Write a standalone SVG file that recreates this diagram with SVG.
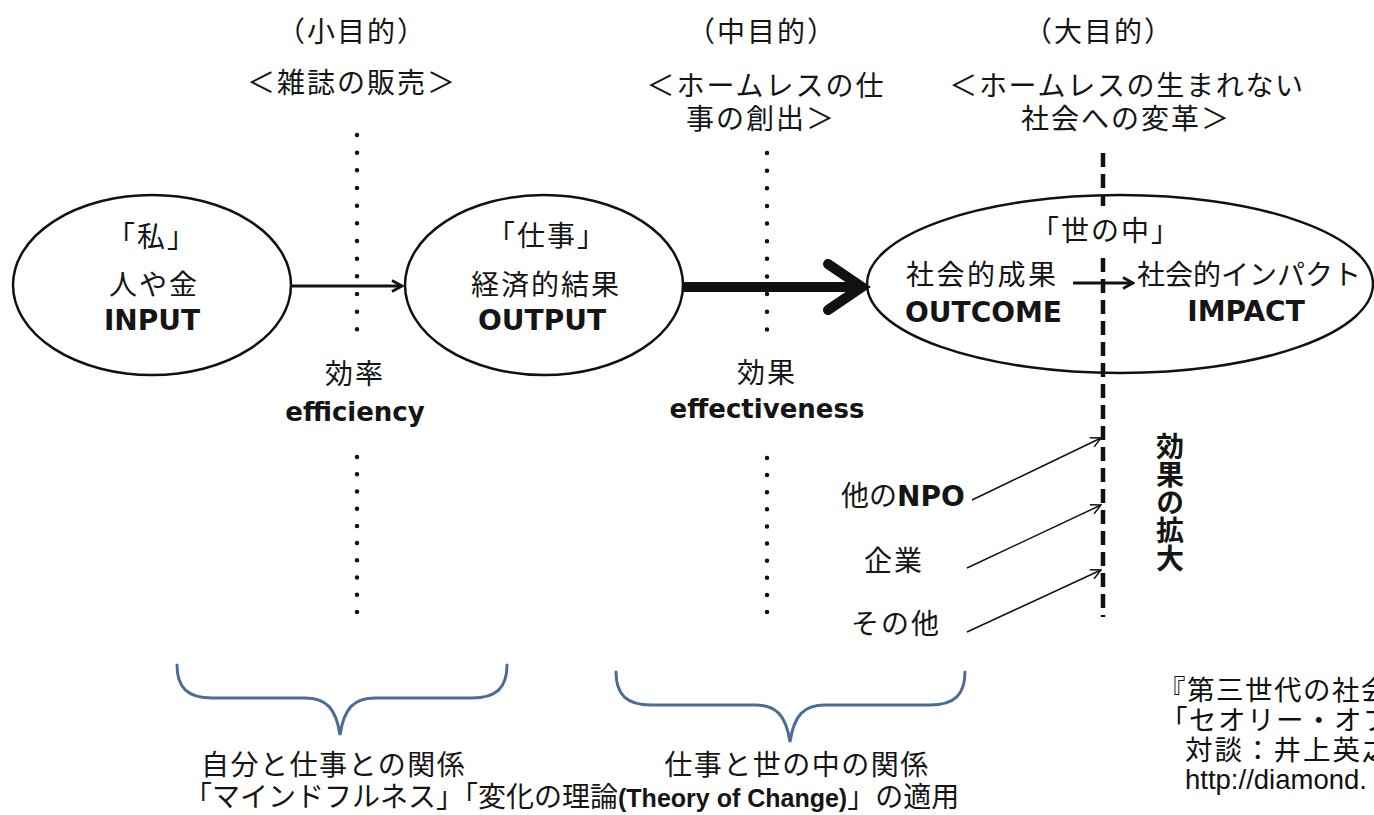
<svg xmlns="http://www.w3.org/2000/svg" width="1374" height="815" viewBox="0 0 1374 815">
<style>
.jp{font-family:"Noto Sans CJK JP","Noto Sans CJK SC",sans-serif;fill:#151515;font-size:28px}
.ttl{letter-spacing:2px}
.en{font-family:"DejaVu Sans","Noto Sans CJK JP",sans-serif;font-weight:bold;fill:#151515}
.enb{font-family:"Liberation Sans","Noto Sans CJK JP",sans-serif;font-weight:bold;fill:#151515}
.b{font-weight:bold}
.src{font-family:"Liberation Sans","Noto Sans CJK JP",sans-serif;fill:#111;font-size:27.5px}
.node{fill:#fff;stroke:#111;stroke-width:2.5}
.dots{stroke:#111;stroke-width:4.5;stroke-linecap:round;fill:none}
.brace{fill:none;stroke:#4c6c96;stroke-width:3;stroke-linecap:round}
.mid{text-anchor:middle}
</style>
<defs>
<marker id="ah" viewBox="0 0 14 14" refX="12" refY="7" markerWidth="14" markerHeight="14" markerUnits="userSpaceOnUse" orient="auto">
<path d="M2,1.5 L12,7 L2,12.5" fill="none" stroke="#111" stroke-width="2.6" stroke-linejoin="miter"/>
</marker>
<marker id="ahs" viewBox="0 0 12 12" refX="11" refY="6" markerWidth="12" markerHeight="12" markerUnits="userSpaceOnUse" orient="auto">
<path d="M1,1 L11,6 L1,11" fill="none" stroke="#111" stroke-width="1.5"/>
</marker>
</defs>
<rect width="1374" height="815" fill="#fff"/>

<g id="headers">
<text class="jp ttl mid" x="352" y="42" font-size="26">（小目的）</text>
<text class="jp ttl mid" x="352" y="93">＜雑誌の販売＞</text>
<text class="jp ttl mid" x="762" y="42" font-size="26">（中目的）</text>
<text class="jp ttl mid" x="766" y="96">＜ホームレスの仕</text>
<text class="jp ttl mid" x="761" y="129">事の創出＞</text>
<text class="jp ttl mid" x="1099" y="42" font-size="26">（大目的）</text>
<text class="jp mid" x="1127" y="96" letter-spacing="1.7">＜ホームレスの生まれない</text>
<text class="jp ttl mid" x="1126" y="129">社会への変革＞</text>
</g>

<g id="guides">
<line class="dots" x1="357" y1="135" x2="357" y2="347" stroke-dasharray="0 17.67"/>
<line class="dots" x1="357" y1="457" x2="357" y2="612" stroke-dasharray="0 17.22"/>
<line class="dots" x1="767" y1="153" x2="767" y2="347" stroke-dasharray="0 17.64"/>
<line class="dots" x1="767" y1="458" x2="767" y2="612" stroke-dasharray="0 17.11"/>
</g>

<g id="node-input">
<ellipse class="node" cx="152" cy="285" rx="139" ry="90"/>
<text class="jp ttl mid" x="152" y="247">「私」</text>
<text class="jp ttl mid" x="154" y="295">人や金</text>
<text class="en mid" x="152" y="330" font-size="28">INPUT</text>
</g>

<g id="node-output">
<ellipse class="node" cx="544" cy="285" rx="139" ry="90"/>
<text class="jp ttl mid" x="547" y="246">「仕事」</text>
<text class="jp ttl mid" x="546" y="295">経済的結果</text>
<text class="en mid" x="542" y="330" font-size="28">OUTPUT</text>
</g>

<g id="node-society">
<ellipse class="node" cx="1120" cy="284" rx="253" ry="89"/>
</g>

<g id="connectors">
<line x1="1103" y1="153" x2="1103" y2="617" stroke="#111" stroke-width="4.5" stroke-dasharray="14 7"/>
<rect x="1048" y="206" width="112" height="48" fill="#fff"/>
<line x1="292" y1="286" x2="402" y2="286" stroke="#111" stroke-width="3" marker-end="url(#ah)"/>
<line x1="683" y1="287" x2="858" y2="287" stroke="#111" stroke-width="10"/>
<path d="M828,264 L862,287 L828,310" fill="none" stroke="#111" stroke-width="10" stroke-linecap="round" stroke-linejoin="miter"/>
<line x1="1073" y1="283" x2="1133" y2="283" stroke="#111" stroke-width="3" marker-end="url(#ah)"/>
<line x1="972" y1="500" x2="1101" y2="438" stroke="#111" stroke-width="1.5" marker-end="url(#ahs)"/>
<line x1="967" y1="568" x2="1101" y2="505" stroke="#111" stroke-width="1.5" marker-end="url(#ahs)"/>
<line x1="967" y1="632" x2="1101" y2="570" stroke="#111" stroke-width="1.5" marker-end="url(#ahs)"/>
</g>

<g id="society-labels">
<text class="jp ttl mid" x="1106" y="241">「世の中」</text>
<text class="jp" x="906" y="285" letter-spacing="2.5">社会的成果</text>
<text class="en" x="905" y="322" font-size="28">OUTCOME</text>
<text class="jp" x="1137" y="285">社会的インパクト</text>
<text class="en mid" x="1246" y="321" font-size="28">IMPACT</text>
</g>

<g id="label-efficiency">
<text class="jp ttl mid" x="355" y="384">効率</text>
<text class="en mid" x="355" y="421" font-size="26">efficiency</text>
</g>
<g id="label-effectiveness">
<text class="jp ttl mid" x="767" y="383">効果</text>
<text class="en mid" x="767" y="418" font-size="26">effectiveness</text>
</g>

<g id="actor-npo">
<text class="jp" x="841" y="506">他の<tspan class="en" font-size="28">NPO</tspan></text>
</g>
<g id="actor-company">
<text class="jp ttl" x="864" y="571">企業</text>
</g>
<g id="actor-other">
<text class="jp ttl" x="851" y="634">その他</text>
</g>

<g id="label-expansion">
<text class="jp b" font-size="29" x="1170" y="432" writing-mode="tb" style="writing-mode:vertical-rl">効果の拡大</text>
</g>

<g id="braces">
<path class="brace" d="M177,665 C177,688 188,698 212,698 L305,698 C326,698 336,708 340,735 C344,708 354,698 375,698 L472,698 C496,698 507,688 507,665"/>
<path class="brace" d="M616,672 C616,695 627,705 651,705 L755,705 C776,705 786,715 790,742 C794,715 804,705 825,705 L930,705 C954,705 965,695 965,672"/>
</g>

<g id="bottom-labels">
<text class="jp" x="201" y="775" letter-spacing="1.5">自分と仕事との関係</text>
<text class="jp mid" x="797" y="775" letter-spacing="1.5">仕事と世の中の関係</text>
<text class="jp" x="184" y="807" font-size="26">「マインドフルネス」「変化の理論<tspan class="enb" font-size="25">(Theory of Change)</tspan>」の適用</text>
</g>

<g id="source">
<text class="src" x="1158" y="700" letter-spacing="1.5">『第三世代の社会</text>
<text class="src" x="1160" y="730" letter-spacing="1.5">「セオリー・オブ</text>
<text class="src" x="1185" y="760" letter-spacing="2">対談：井上英之</text>
<text class="src" x="1185" y="789">http://diamond.</text>
</g>
</svg>
